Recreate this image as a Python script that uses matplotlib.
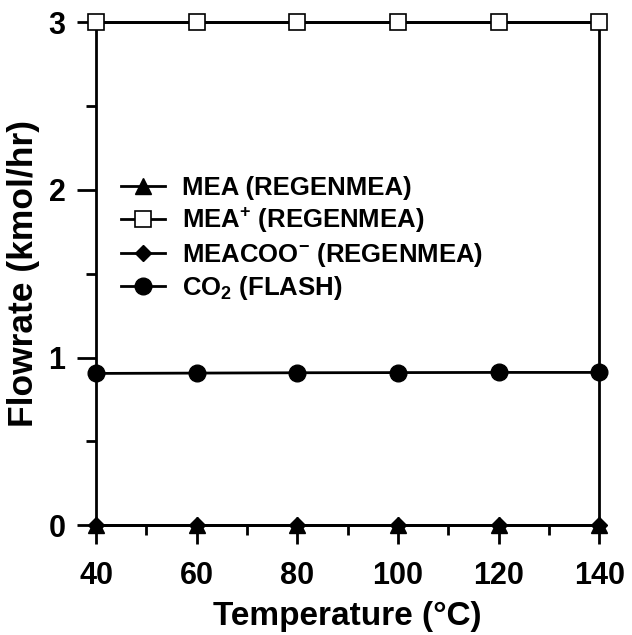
import matplotlib.pyplot as plt
from matplotlib.ticker import MultipleLocator

plt.rcParams['font.family'] = ['Liberation Sans', 'DejaVu Sans']
plt.rcParams['font.weight'] = 'bold'
plt.rcParams['mathtext.default'] = 'regular'

# dados
temperatura = [40, 60, 80, 100, 120, 140]
mea = [0, 0, 0, 0, 0, 0]
mea_mais = [3.0, 3.0, 3.0, 3.0, 3.0, 3.0]
meacoo = [0, 0, 0, 0, 0, 0]
co2 = [0.905, 0.907, 0.909, 0.91, 0.911, 0.911]

fig = plt.figure(figsize=(6.32, 6.35), dpi=100)
ax = fig.add_axes([0.152, 0.173, 0.796, 0.792])

estilo = dict(color='black', lw=2, clip_on=False)
ax.plot(temperatura, mea, marker='^', ms=11, label='MEA (REGENMEA)', zorder=5, **estilo)
ax.plot(temperatura, mea_mais, marker='s', ms=11, mfc='white', mew=1.2,
        label='MEA$^{+}$ (REGENMEA)', zorder=4, **estilo)
ax.plot(temperatura, meacoo, marker='D', ms=8.5, label='MEACOO$^{-}$ (REGENMEA)', zorder=3, **estilo)
ax.plot(temperatura, co2, marker='o', ms=12, label='CO$_2$ (FLASH)', zorder=4, **estilo)

ax.set_xlim(40, 140)
ax.set_ylim(0, 3)
ax.xaxis.set_major_locator(MultipleLocator(20))
ax.xaxis.set_minor_locator(MultipleLocator(10))
ax.yaxis.set_major_locator(MultipleLocator(1))
ax.yaxis.set_minor_locator(MultipleLocator(0.5))
ax.tick_params(which='major', direction='out', length=14, width=2, labelsize=22)
ax.tick_params(axis='x', which='major', pad=12)
ax.tick_params(axis='y', which='major', pad=8)
ax.tick_params(which='minor', direction='out', length=7, width=2)
for s in ax.spines.values():
    s.set_linewidth(2)

ax.set_xlabel('Temperature (°C)', fontsize=24, fontweight='bold', labelpad=7)
ax.set_ylabel('Flowrate (kmol/hr)', fontsize=25.5, fontweight='bold', labelpad=6)

# Legenda
legend = ax.legend(loc='upper left', bbox_to_anchor=(0.004, 0.74), frameon=False,
                   fontsize=18.5, handlelength=1.7, handletextpad=0.65, labelspacing=0.22)

fig.savefig('out.png', dpi=100)
